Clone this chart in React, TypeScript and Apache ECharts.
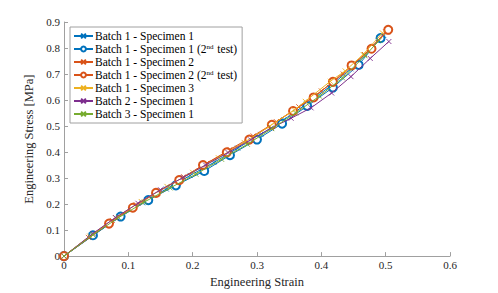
import React, { useEffect, useRef } from "react";
import * as echarts from "echarts";

const seriesNames = [
  "Batch 1 - Specimen 1",
  "Batch 1 - Specimen 1 (2{sup|nd} test)",
  "Batch 1 - Specimen 2",
  "Batch 1 - Specimen 2 (2{sup|nd} test)",
  "Batch 1 - Specimen 3",
  "Batch 2 - Specimen 1",
  "Batch 3 - Specimen 1",
];
const seriesColors = ["#0072BD", "#0072BD", "#D95319", "#D95319", "#EDB120", "#7E2F8E", "#77AC30"];
const seriesMarkers = ["x", "o", "x", "o", "x", "x", "x"];

const strainB1S1 = [0, 0.048, 0.085, 0.122, 0.159, 0.196, 0.233, 0.27, 0.306, 0.342, 0.377, 0.412, 0.446, 0.478, 0.497];
const stressB1S1 = [0, 0.084, 0.148, 0.205, 0.258, 0.31, 0.36, 0.415, 0.468, 0.525, 0.585, 0.65, 0.72, 0.8, 0.848];

const strainB1S1b = [0, 0.045, 0.088, 0.131, 0.174, 0.218, 0.258, 0.3, 0.339, 0.378, 0.418, 0.458, 0.492];
const stressB1S1b = [0, 0.08, 0.152, 0.215, 0.272, 0.327, 0.388, 0.448, 0.509, 0.577, 0.648, 0.735, 0.838];

const strainB1S2 = [0, 0.038, 0.075, 0.112, 0.149, 0.186, 0.222, 0.258, 0.294, 0.33, 0.365, 0.4, 0.434, 0.467, 0.5];
const stressB1S2 = [0, 0.072, 0.137, 0.198, 0.252, 0.305, 0.357, 0.41, 0.462, 0.517, 0.574, 0.635, 0.7, 0.775, 0.862];

const strainB1S2b = [0, 0.07, 0.107, 0.143, 0.179, 0.216, 0.253, 0.288, 0.323, 0.356, 0.388, 0.418, 0.447, 0.478, 0.504];
const stressB1S2b = [0, 0.125, 0.186, 0.243, 0.292, 0.35, 0.399, 0.448, 0.505, 0.558, 0.61, 0.67, 0.733, 0.797, 0.87];

const strainB1S3 = [0, 0.04, 0.08, 0.12, 0.16, 0.2, 0.24, 0.28, 0.32, 0.358, 0.375, 0.414, 0.437, 0.465, 0.495];
const stressB1S3 = [0, 0.077, 0.148, 0.21, 0.268, 0.322, 0.378, 0.437, 0.5, 0.562, 0.595, 0.672, 0.712, 0.775, 0.858];

const strainB2S1 = [0, 0.045, 0.08, 0.115, 0.15, 0.185, 0.22, 0.255, 0.29, 0.322, 0.353, 0.384, 0.416, 0.446, 0.476, 0.505];
const stressB2S1 = [0, 0.087, 0.148, 0.203, 0.255, 0.302, 0.35, 0.398, 0.447, 0.492, 0.53, 0.57, 0.627, 0.69, 0.76, 0.825];

const strainB3S1 = [0, 0.045, 0.085, 0.125, 0.165, 0.205, 0.245, 0.285, 0.323, 0.36, 0.397, 0.433, 0.468, 0.49];
const stressB3S1 = [0, 0.082, 0.148, 0.208, 0.262, 0.315, 0.372, 0.43, 0.49, 0.55, 0.615, 0.685, 0.77, 0.83];

const strains = [strainB1S1, strainB1S1b, strainB1S2, strainB1S2b, strainB1S3, strainB2S1, strainB3S1];
const stresses = [stressB1S1, stressB1S1b, stressB1S2, stressB1S2b, stressB1S3, stressB2S1, stressB3S1];

const FONT = "Liberation Serif";
const XPATH = "path://M0,0L10,10M10,0L0,10";

export default function App() {
  const ref = useRef<HTMLDivElement>(null);
  useEffect(() => {
    if (!ref.current) return;
    const chart = echarts.init(ref.current, undefined, { renderer: "svg" });
    const series = seriesNames.map((name, i) => {
      const isO = seriesMarkers[i] === "o";
      return {
        name,
        type: "line",
        data: strains[i].map((s, j) => [s, stresses[i][j]]),
        symbol: isO ? "emptyCircle" : XPATH,
        symbolSize: isO ? 8 : 5,
        showAllSymbol: true,
        lineStyle: { color: seriesColors[i], width: 1 },
        itemStyle: { color: seriesColors[i], borderColor: seriesColors[i], borderWidth: 0.9 },
        emphasis: { disabled: true },
        z: 2 + i,
      };
    });
    chart.setOption({
      animation: false,
      textStyle: { fontFamily: FONT },
      grid: { left: 64, right: 48, top: 22, bottom: 34 },
      legend: {
        orient: "vertical",
        left: 70,
        top: 27,
        itemWidth: 19,
        itemHeight: 6,
        itemGap: 1,
        padding: [3, 5, 3, 3],
        backgroundColor: "#fff",
        borderColor: "#a0a0a0",
        borderWidth: 1,
        data: seriesNames.map((n) => ({ name: n })),
        textStyle: {
          fontFamily: FONT,
          fontSize: 11.5,
          color: "#000",
          lineHeight: 12,
          padding: [0, 0, 0, -3],
          rich: {
            sup: { fontFamily: FONT, fontSize: 7, lineHeight: 12, verticalAlign: "top", padding: [0, 1, 5, 0] },
          },
        },
      },
      xAxis: {
        type: "value",
        min: 0,
        max: 0.6,
        interval: 0.1,
        name: "Engineering Strain",
        nameLocation: "middle",
        nameGap: 18,
        nameTextStyle: { fontFamily: FONT, fontSize: 12.5, color: "#262626" },
        axisLine: { lineStyle: { color: "#a0a0a0" } },
        axisTick: { inside: true, length: 4, lineStyle: { color: "#a0a0a0" } },
        axisLabel: { fontFamily: FONT, fontSize: 11, color: "#262626", margin: 3, formatter: (v: number) => String(Math.round(v * 10) / 10) },
        splitLine: { show: false },
      },
      yAxis: {
        type: "value",
        min: 0,
        max: 0.9,
        interval: 0.1,
        name: "Engineering Stress [MPa]",
        nameLocation: "middle",
        nameGap: 29,
        nameTextStyle: { fontFamily: FONT, fontSize: 12.5, color: "#262626" },
        axisLine: { show: true, lineStyle: { color: "#a0a0a0" } },
        axisTick: { show: true, inside: true, length: 4, lineStyle: { color: "#a0a0a0" } },
        axisLabel: { fontFamily: FONT, fontSize: 11, color: "#262626", margin: 4, formatter: (v: number) => String(Math.round(v * 10) / 10) },
        splitLine: { show: false },
      },
      series,
    });
    return () => chart.dispose();
  }, []);
  return <div ref={ref} style={{ width: 498, height: 293, position: "absolute", left: 0, top: 0 }} />;
}
